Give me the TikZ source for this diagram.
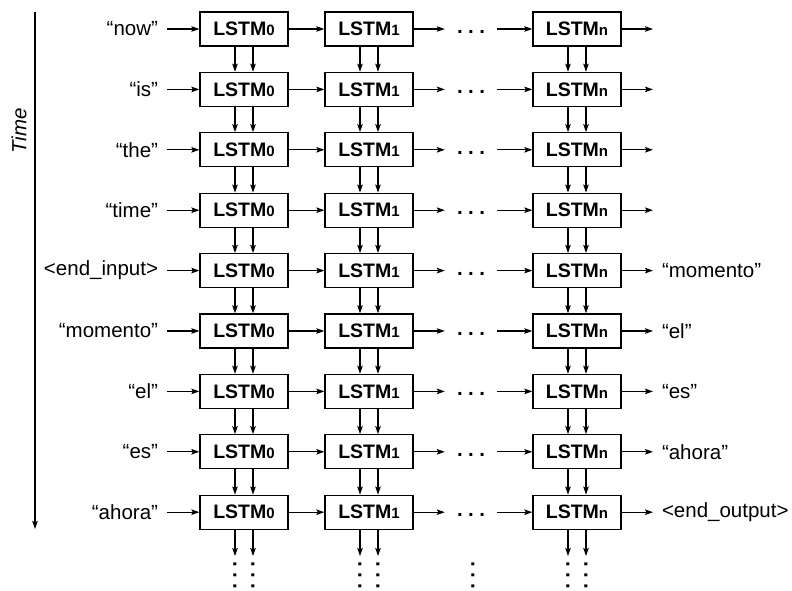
\documentclass[tikz,border=0pt]{standalone}
\usepackage{fontspec}
\setmainfont{Liberation Sans}
\usetikzlibrary{arrows.meta}
\tikzset{
  cell/.style={draw, line width=1.3pt, minimum width=88pt, minimum height=34pt,
               inner sep=0pt, font=\fontsize{19.5}{20}\selectfont\bfseries},
  word/.style={inner sep=0pt, outer xsep=9pt, font=\fontsize{20.5}{22}\selectfont},
  arr/.style={-{Stealth[length=8pt,width=5.5pt,inset=1.5pt]}, line width=1.1pt},
  hdots/.style={inner sep=0pt, minimum width=52pt, minimum height=20pt,
                text height=9pt, text depth=0pt,
                font=\fontsize{20.5}{22}\selectfont\bfseries},
  vdots/.style={inner sep=0pt, outer sep=5pt, rotate=-90,
                font=\fontsize{20.5}{22}\selectfont\bfseries},
}
\newcommand{\lstmcell}[1]{LSTM{\fontsize{15}{15}\selectfont #1}}
\newcommand{\dotrow}{\makebox[28pt]{.\hfill.\hfill.}}

\begin{document}
\begin{tikzpicture}[x=1pt, y=-1pt]
  \useasboundingbox (0,0) rectangle (792,591);

  % time axis
  \coordinate (t0) at (35,12);
  \coordinate (t1) at (35,529);
  \draw[arr, line width=1.3pt] (t0) -- (t1);
  \node[rotate=90, font=\fontsize{20.5}{22}\selectfont\itshape] (time) at (19,131) {Time};

  % unrolled rows
  \foreach \r/\w in {0/“now”, 1/“is”, 2/“the”, 3/“time”, 4/<end\_input>,
                     5/“momento”, 6/“el”, 7/“es”, 8/“ahora”} {
    \pgfmathsetmacro\y{29+60.4*\r}
    \node[word, anchor=east] (in\r) at (167,\y) {\w};
    \node[cell] (a\r) at (244,\y) {\lstmcell{0}};
    \node[cell] (b\r) at (369,\y) {\lstmcell{1}};
    \node[hdots] (d\r) at (471,\y) {\dotrow};
    \node[cell] (c\r) at (577,\y) {\lstmcell{n}};
    \draw[arr] (in\r) -- (a\r);
    \draw[arr] (a\r) -- (b\r);
    \draw[arr] (b\r) -- (d\r);
    \draw[arr] (d\r) -- (c\r);
  }

  % outputs
  \foreach \r in {0,...,3} {
    \pgfmathsetmacro\y{29+60.4*\r}
    \coordinate (out\r) at (653,\y);
    \draw[arr] (c\r) -- (out\r);
  }
  \foreach \r/\w in {4/“momento”, 5/“el”, 6/“es”, 7/“ahora”, 8/<end\_output>} {
    \pgfmathsetmacro\y{29+60.4*\r}
    \node[word, anchor=west] (out\r) at (653,\y) {\w};
    \draw[arr] (c\r) -- (out\r);
  }

  % state passed down between rows
  \foreach \r in {0,...,7} {
    \pgfmathtruncatemacro\s{\r+1}
    \foreach \c in {a,b,c} {
      \draw[arr] ([xshift=-9pt]\c\r.south) -- ([xshift=-9pt]\c\s.north);
      \draw[arr] ([xshift=9pt]\c\r.south) -- ([xshift=9pt]\c\s.north);
    }
  }

  % continuation below the last row
  \foreach \c/\x in {a/244, b/369, c/577} {
    \node[vdots] (\c L) at (\x-9,575) {\dotrow};
    \node[vdots] (\c R) at (\x+9,575) {\dotrow};
    \draw[arr] ([xshift=-9pt]\c8.south) -- (\c L);
    \draw[arr] ([xshift=9pt]\c8.south) -- (\c R);
  }
  \node[vdots] (dL) at (473,575) {\dotrow};
\end{tikzpicture}
\end{document}
